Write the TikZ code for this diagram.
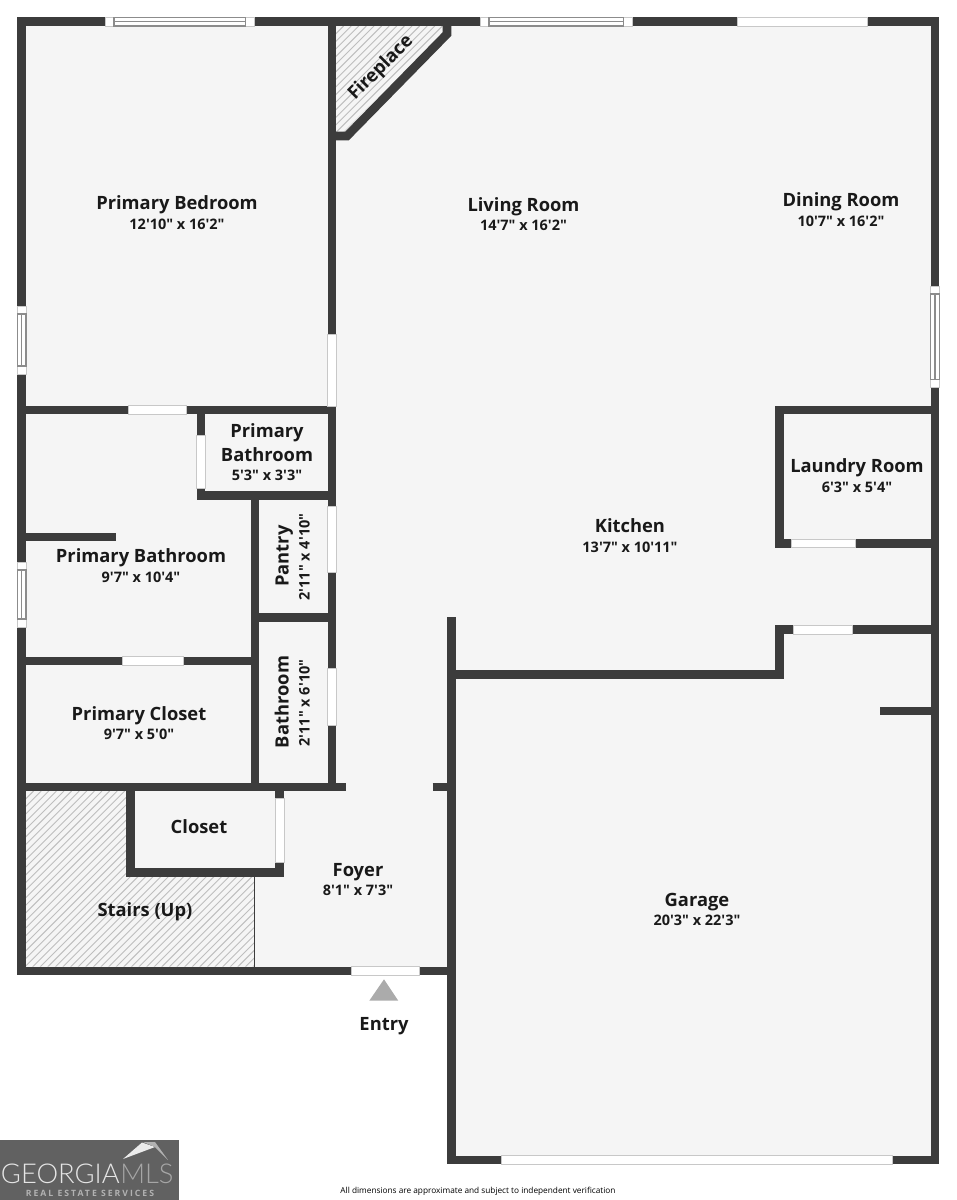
\documentclass[tikz,border=0pt]{standalone}
\usepackage{fontspec}
\newfontfamily\roomfont{Open Sans}
\newfontfamily\logofont[UprightFont=* Light]{Lato}
\definecolor{wallgray}{HTML}{3C3C3C}
\definecolor{floorgray}{HTML}{F5F5F5}
\definecolor{edgegray}{HTML}{C8C8C8}
\definecolor{framegray}{HTML}{8C8C8C}
\definecolor{hatchgray}{HTML}{BEBEBE}
\tikzset{
  wall/.style={draw=wallgray,line width=6.45pt,line join=miter,line cap=butt},
  opening/.style={fill=white,draw=edgegray,line width=0.6pt},
  frameline/.style={draw=framegray,line width=0.8pt},
  hatchline/.style={draw=hatchgray,line width=0.7pt},
  roomname/.style={font=\roomfont\bfseries\fontsize{13.75}{16}\selectfont,text=black!90,inner sep=0pt,text height=11.5pt,text depth=0pt},
  roomsize/.style={font=\roomfont\bfseries\fontsize{10.85}{13}\selectfont,text=black!90,inner sep=0pt}
}
\begin{document}
\begin{tikzpicture}[x=0.75pt,y=0.75pt,yscale=-1,xscale=1]
\useasboundingbox (0,0) rectangle (957,1200);

%Floor
\fill [floorgray] (21.7,21.7) -- (935,21.7) -- (935,1160) -- (451.5,1160) -- (451.5,970.8) -- (21.7,970.8) -- cycle ;

%Hatch of the stairs
\begin{scope}
\clip (26,791) -- (127,791) -- (127,876) -- (254.5,876) -- (254.5,966.5) -- (26,966.5) -- cycle ;
\foreach \i in {0,1,...,56} { \draw [hatchline] (26+7.6*\i,791) -- ++(-176,176) ; }
\end{scope}
%Hatch of the fireplace
\begin{scope}
\clip (336,26) -- (443,26) -- (443,30) -- (344,132) -- (336,132) -- cycle ;
\foreach \i in {0,1,...,20} { \draw [hatchline] (336+7.6*\i,26) -- ++(-110,110) ; }
\end{scope}
\draw [wallgray,line width=0.8pt] (254.5,876) -- (254.5,967) ;

%Outer walls
\draw [wall] (21.7,21.7) -- (935,21.7) -- (935,1160) -- (451.5,1160) -- (451.5,970.8) -- (21.7,970.8) -- cycle ;
\draw [wall] (451.5,971) -- (451.5,617) ;
%Bedroom side and fireplace
\draw [wall] (332,21) -- (332,787) ;
\draw [wall] (332,136) -- (347,136) -- (447,34) -- (447,21) ;
%Left rooms
\draw [wall] (22,410) -- (332,410) ;
\draw [wall] (201,410) -- (201,495.7) -- (336,495.7) ;
\draw [wall] (255,495) -- (255,787) ;
\draw [wall] (255,617.3) -- (332,617.3) ;
\draw [wall] (22,536.8) -- (116,536.8) ;
\draw [wall] (22,660.8) -- (255,660.8) ;
\draw [wall] (22,787) -- (346,787) ;
\draw [wall] (432.7,787) -- (448,787) ;
%Closet
\draw [wall] (130.7,787) -- (130.7,872.5) -- (279.7,872.5) -- (279.7,787) ;
%Right rooms
\draw [wall] (935,410) -- (779.2,410) -- (779.2,543.2) -- (935,543.2) ;
\draw [wall] (935,629.7) -- (779.2,629.7) -- (779.2,674.2) -- (451.5,674.2) ;
\draw [wall] (935,711) -- (879.7,711) ;

%Door openings, horizontal walls
\foreach \xa/\xb/\yy in {737/867/21.7, 128/186/410, 122/183/660.8, 351.7/419.3/970.8, 791.3/855.7/543.2, 793.3/852.7/629.7, 501/892/1160} {
  \draw [opening] (\xa,\yy-4.3) rectangle (\xb,\yy+4.3) ;
}
%Door openings, vertical walls
\foreach \xx/\ya/\yb in {332/334/406, 201/435/488, 332/506.7/572.3, 332/668/725, 279.7/798.3/862.3} {
  \draw [opening] (\xx-4.3,\ya) rectangle (\xx+4.3,\yb) ;
}
%Windows, horizontal walls
\foreach \xa/\xb in {105/254.7, 480/632.7} {
  \draw [opening] (\xa,17.4) rectangle (\xb,26) ;
  \draw [frameline] (\xa+9,17.4) rectangle (\xb-9,26) ;
  \draw [frameline] (\xa+9,21.7) -- (\xb-9,21.7) ;
}
%Windows, vertical walls
\foreach \xx/\ya/\yb in {21.7/306/374, 21.7/562/627, 935/286/387.3} {
  \draw [opening] (\xx-4.3,\ya) rectangle (\xx+4.3,\yb) ;
  \draw [frameline] (\xx-4.3,\ya+8) rectangle (\xx+4.3,\yb-8) ;
  \draw [frameline] (\xx,\ya+8) -- (\xx,\yb-8) ;
}

%Entry marker
\fill [black!33] (384,979.3) -- (398.3,1000.7) -- (369.3,1000.7) -- cycle ;

% Text Node
\node [roomname] (bedroom) at (177,202) {Primary Bedroom};
\node [roomsize] (bedroomsize) at (177,224) {12'10" x 16'2"};
\node [roomname] (living) at (523.5,204) {Living Room};
\node [roomsize] (livingsize) at (523.5,225) {14'7" x 16'2"};
\node [roomname] (dining) at (841,199) {Dining Room};
\node [roomsize] (diningsize) at (841,221) {10'7" x 16'2"};
\node [roomname] (bathone) at (267,430) {Primary};
\node [roomname] (bathonetwo) at (267,454) {Bathroom};
\node [roomsize] (bathonesize) at (267,475) {5'3" x 3'3"};
\node [roomname] (laundry) at (857,465) {Laundry Room};
\node [roomsize] (laundrysize) at (857,487) {6'3" x 5'4"};
\node [roomname] (kitchen) at (630,525) {Kitchen};
\node [roomsize] (kitchensize) at (630,547) {13'7" x 10'11"};
\node [roomname,rotate=90] (pantry) at (281,556) {Pantry};
\node [roomsize,rotate=90] (pantrysize) at (304.5,557) {2'11" x 4'10"};
\node [roomname,rotate=90] (bath) at (281,702) {Bathroom};
\node [roomsize,rotate=90] (bathsize) at (304.5,703) {2'11" x 6'10"};
\node [roomname] (bathmain) at (141,555) {Primary Bathroom};
\node [roomsize] (bathmainsize) at (141,577) {9'7" x 10'4"};
\node [roomname] (closetmain) at (139,713) {Primary Closet};
\node [roomsize] (closetmainsize) at (139,734) {9'7" x 5'0"};
\node [roomname] (closet) at (199,826) {Closet};
\node [roomname] (foyer) at (358,869) {Foyer};
\node [roomsize] (foyersize) at (358,890) {8'1" x 7'3"};
\node [roomname] (stairs) at (145,909) {Stairs (Up)};
\node [roomname] (entry) at (384,1023) {Entry};
\node [roomname] (garage) at (697,899) {Garage};
\node [roomsize] (garagesize) at (697,920) {20'3" x 22'3"};
\node [roomname,rotate=45] (fireplace) at (379,66) {Fireplace};
\node [font=\roomfont\fontsize{6.2}{8}\selectfont,inner sep=0pt] (footnote) at (478,1191) {All dimensions are approximate and subject to independent verification};

%Logo
\fill [black!62] (0,1140) rectangle (179,1200) ;
\fill [white!92!black] (123,1159) -- (142,1142.5) -- (155,1147) -- cycle ;
\fill [black!30] (143,1142) -- (155,1142) -- (168,1160) -- (155,1147) -- cycle ;
\node [font=\logofont\fontsize{20.5}{24}\selectfont,text=white!90!black,anchor=east,inner sep=0pt] (logoleft) at (120,1174) {GEORGIA};
\node [font=\logofont\fontsize{20.5}{24}\selectfont,text=black!35,anchor=west,inner sep=0pt] (logoright) at (120,1174) {MLS};
\node [font=\roomfont\bfseries\fontsize{6.5}{8}\selectfont\addfontfeature{LetterSpace=23},text=black!30,inner sep=0pt] (logosub) at (90,1193.5) {REAL ESTATE SERVICES};

\end{tikzpicture}
\end{document}
